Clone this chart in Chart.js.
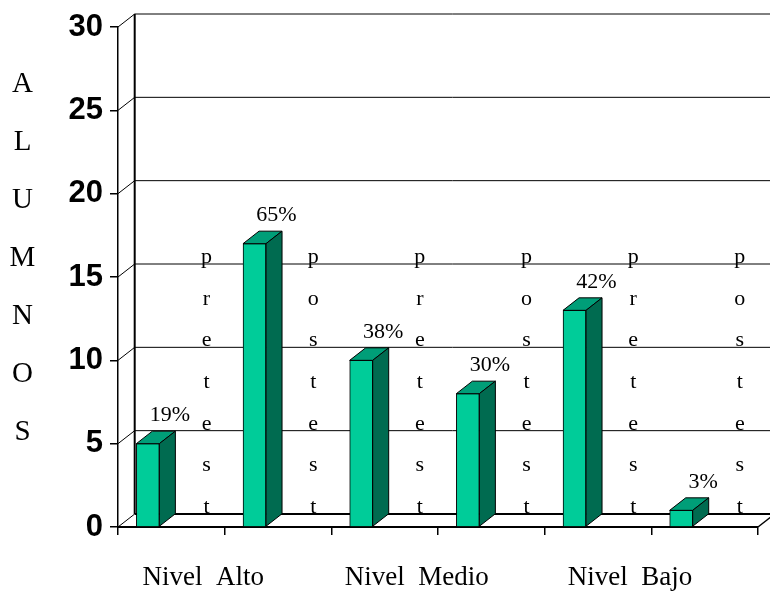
<!DOCTYPE html>
<html>
<head>
<meta charset="utf-8">
<title>Alumnos por nivel</title>
<script src="https://cdn.jsdelivr.net/npm/chart.js@4/dist/chart.umd.min.js"></script>
<style>
  html, body { margin: 0; padding: 0; background: #fff; }
  canvas { display: block; }
</style>
</head>
<body>
<canvas id="c" width="770" height="591"></canvas>
<script>
// Niveles y fases de la evaluación
const categories = ['Nivel  Alto', 'Nivel  Medio', 'Nivel  Bajo'];
const phases = ['pretest', 'postest'];
// Número de alumnos por columna (pretest / postest de cada nivel)
const alumnos = [5, 17, 10, 8, 13, 1];
const percentLabels = ['19%', '65%', '38%', '30%', '42%', '3%'];
const yTicks = [0, 5, 10, 15, 20, 25, 30];
const axisTitle = 'ALUMNOS';

// Aspecto 3D
const WALL_DX = 16.7, WALL_DY = 13;
const BAR_DX = 16, BAR_DY = 12.5;
const BAR_POS = 0.28;      // posición de la barra dentro de su columna
const TEXT_POS = 0.83;     // posición del texto vertical dentro de la columna
const LABEL_POS = 0.8;     // centro de la etiqueta de nivel (par de columnas)
const FRONT = '#00CC99', TOP = '#009E78', SIDE = '#006B50';
const SERIF = "'Liberation Serif', 'Times New Roman', serif";

function line(ctx, x1, y1, x2, y2, w) {
  ctx.beginPath();
  ctx.lineWidth = w;
  ctx.moveTo(x1, y1);
  ctx.lineTo(x2, y2);
  ctx.stroke();
}
function poly(ctx, pts, fill) {
  ctx.beginPath();
  ctx.moveTo(pts[0][0], pts[0][1]);
  for (let i = 1; i < pts.length; i++) ctx.lineTo(pts[i][0], pts[i][1]);
  ctx.closePath();
  ctx.fillStyle = fill;
  ctx.fill();
  ctx.lineWidth = 1;
  ctx.strokeStyle = '#000';
  ctx.stroke();
}

const depth3d = {
  id: 'depth3d',
  beforeDatasetsDraw(chart) {
    const { ctx, chartArea: a, scales: { x, y } } = chart;
    ctx.save();
    ctx.strokeStyle = '#000';
    const bx = a.left + WALL_DX;
    yTicks.forEach(v => {
      const fy = y.getPixelForValue(v);
      const by = fy - WALL_DY;
      line(ctx, bx, by, chart.width, by, v === 0 ? 2 : 1);
      line(ctx, a.left, fy, bx, by, 1);
    });
    // arista posterior izquierda
    line(ctx, bx, y.getPixelForValue(30) - WALL_DY, bx, y.getPixelForValue(0) - WALL_DY, 2);
    // borde derecho del suelo
    line(ctx, a.right, a.bottom, a.right + WALL_DX, a.bottom - WALL_DY, 1.5);
    ctx.restore();
  },
  afterDatasetsDraw(chart) {
    const { ctx, chartArea: a, scales: { x, y } } = chart;
    ctx.save();
    // caras superior y lateral de cada barra
    chart.getDatasetMeta(0).data.forEach(bar => {
      const p = bar.getProps(['x', 'y', 'base', 'width'], true);
      const l = p.x - p.width / 2, r = p.x + p.width / 2;
      poly(ctx, [[l, p.y], [r, p.y], [r + BAR_DX, p.y - BAR_DY], [l + BAR_DX, p.y - BAR_DY]], TOP);
      poly(ctx, [[r, p.y], [r + BAR_DX, p.y - BAR_DY], [r + BAR_DX, p.base - BAR_DY], [r, p.base]], SIDE);
    });

    ctx.fillStyle = '#000';
    // porcentajes sobre las barras
    ctx.font = '22px ' + SERIF;
    ctx.textAlign = 'center';
    ctx.textBaseline = 'alphabetic';
    chart.getDatasetMeta(0).data.forEach((bar, i) => {
      const p = bar.getProps(['x', 'y'], true);
      ctx.fillText(percentLabels[i], p.x + 22, p.y - 22.5);
    });

    // pretest / postest escritos en vertical
    ctx.font = '22px ' + SERIF;
    for (let j = 0; j < alumnos.length; j++) {
      const word = phases[j % 2];
      const cx = x.getPixelForValue(j + TEXT_POS);
      for (let k = 0; k < word.length; k++) {
        const v = (word.length - 1 - k) * 2.5;
        ctx.fillText(word[k], cx, y.getPixelForValue(v) - WALL_DY - 1);
      }
    }

    // etiquetas de nivel bajo el eje
    ctx.font = '27px ' + SERIF;
    categories.forEach((c, k) => {
      ctx.fillText(c, x.getPixelForValue(2 * k + LABEL_POS), a.bottom + 57.5);
    });

    // título del eje vertical, letra a letra
    ctx.font = '29px ' + SERIF;
    for (let k = 0; k < axisTitle.length; k++) {
      ctx.fillText(axisTitle[k], 22.5, 92 + 58 * k);
    }
    ctx.restore();
  }
};

new Chart(document.getElementById('c'), {
  type: 'bar',
  data: {
    datasets: [{
      label: 'Alumnos',
      data: alumnos.map((v, i) => ({ x: i + BAR_POS, y: v })),
      backgroundColor: FRONT,
      borderColor: '#000',
      borderWidth: 1,
      barThickness: 23
    }]
  },
  options: {
    responsive: false,
    devicePixelRatio: 1,
    animation: false,
    layout: { autoPadding: false, padding: { top: 27, right: 12, left: 0, bottom: 0 } },
    plugins: { legend: { display: false }, tooltip: { enabled: false }, title: { display: false } },
    scales: {
      x: {
        type: 'linear',
        min: 0, max: 6,
        offset: false,
        grid: { offset: false, drawOnChartArea: false, tickLength: 8, color: '#000', lineWidth: 1.5 },
        border: { color: '#000', width: 2 },
        ticks: { stepSize: 1, autoSkip: false, callback: () => '' },
        afterFit: s => { s.height = 64; }
      },
      y: {
        min: 0, max: 30,
        grid: { drawOnChartArea: false, tickLength: 8, color: '#000', lineWidth: 1.5 },
        border: { color: '#000', width: 1.5 },
        ticks: {
          stepSize: 5,
          padding: 7,
          color: '#000',
          font: { family: "'Liberation Sans', Arial, sans-serif", size: 31, weight: 'bold' }
        },
        afterFit: s => { s.width = 118; }
      }
    }
  },
  plugins: [depth3d]
});
</script>
</body>
</html>
